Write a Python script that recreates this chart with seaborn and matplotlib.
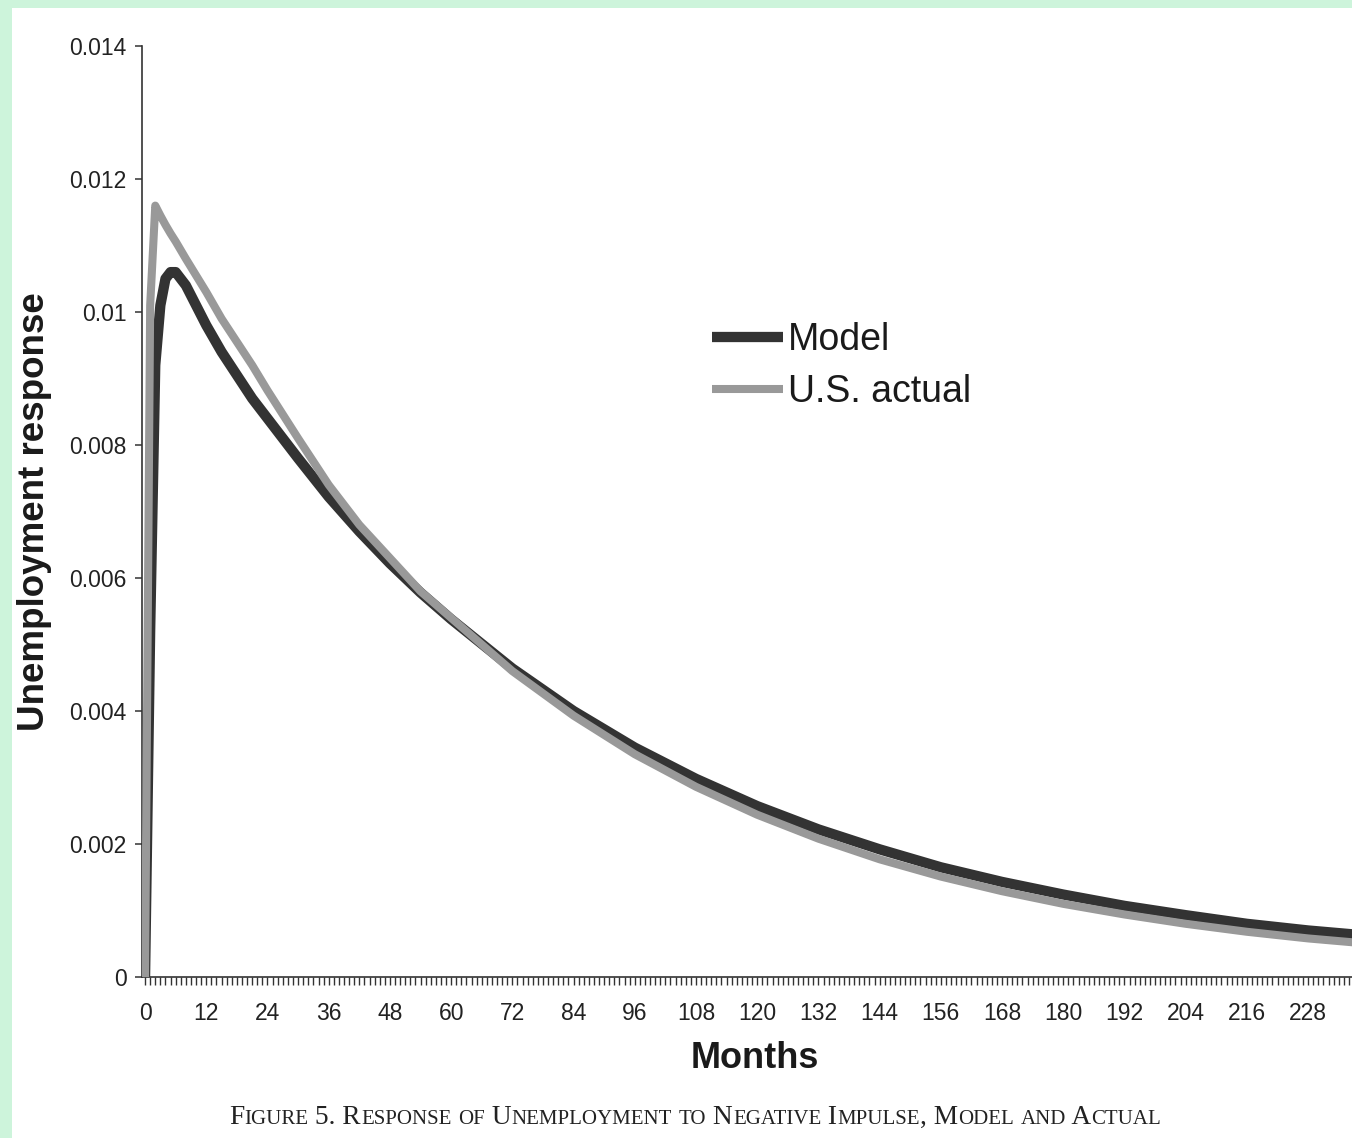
import matplotlib
matplotlib.use("Agg")
import matplotlib.pyplot as plt
import seaborn as sns
import pandas as pd
import numpy as np
from matplotlib.patches import Rectangle
from matplotlib.ticker import MultipleLocator, FixedLocator, FixedFormatter

# ---------------- data ----------------
months = [0, 1, 2, 3, 4, 5, 6, 7, 8, 10, 12, 15, 18, 21, 24, 30, 36, 42, 48, 54,
          60, 72, 84, 96, 108, 120, 132, 144, 156, 168, 180, 192, 204, 216, 228, 240]
model = [0, 0.0052, 0.0092, 0.0101, 0.0105, 0.0106, 0.0106, 0.0105, 0.0104, 0.0101,
         0.0098, 0.0094, 0.00905, 0.0087, 0.0084, 0.0078, 0.00722, 0.00670, 0.00622,
         0.00578, 0.00538, 0.00464, 0.00400, 0.00345, 0.00298, 0.00257, 0.00222,
         0.00192, 0.00165, 0.00143, 0.00124, 0.00107, 0.00093, 0.00080, 0.00070, 0.00062]
us_actual = [0, 0.0101, 0.0116, 0.01145, 0.01131, 0.01118, 0.01106, 0.01093, 0.0108,
             0.01055, 0.0103, 0.0099, 0.00955, 0.0092, 0.00882, 0.0081, 0.0074, 0.0068,
             0.0063, 0.0058, 0.0054, 0.0046, 0.00393, 0.00335, 0.00286, 0.00244,
             0.00208, 0.00177, 0.00151, 0.00129, 0.00110, 0.00094, 0.00080, 0.00068,
             0.00058, 0.00050]
series_names = ["Model", "U.S. actual"]
ytick_vals = [0, 0.002, 0.004, 0.006, 0.008, 0.01, 0.012, 0.014]
ytick_labels = ["0", "0.002", "0.004", "0.006", "0.008", "0.01", "0.012", "0.014"]
xtick_vals = list(range(0, 229, 12))
xtick_labels = [str(v) for v in xtick_vals]
caption = "Figure 5. Response of Unemployment to Negative Impulse, Model and Actual"

df = pd.DataFrame({"month": months * 2,
                   "value": model + us_actual,
                   "series": [series_names[0]] * len(months) + [series_names[1]] * len(months)})

# ---------------- figure ----------------
sns.set_theme(style="white")
plt.rcParams["font.family"] = ["Liberation Sans", "DejaVu Sans"]

W, H = 1352, 1138
fig = plt.figure(figsize=(W / 100, H / 100), dpi=100)
fig.patch.set_facecolor("#cdf4db")
fig.patches.append(Rectangle((12 / W, 0), 1 - 12 / W, 1 - 8 / H, transform=fig.transFigure,
                             facecolor="white", edgecolor="none", zorder=-10))

ax_left, ax_bottom, ax_top = 142, 977, 46
ax = fig.add_axes([ax_left / W, 1 - ax_bottom / H, 1 - ax_left / W, (ax_bottom - ax_top) / H])
ax.set_facecolor("none")

styles = {"Model": dict(color="#333333", lw=7.4, zorder=3),
          "U.S. actual": dict(color="#999999", lw=5.8, zorder=4)}
for name in series_names:
    sub = df[df["series"] == name]
    sns.lineplot(data=sub, x="month", y="value", ax=ax, label=name,
                 color=styles[name]["color"], linewidth=styles[name]["lw"],
                 zorder=styles[name]["zorder"], solid_joinstyle="round", solid_capstyle="butt")

ax.set_xlim(-0.6, 236.6)
ax.set_ylim(0, 0.014)
ax.set_xlabel("")
ax.set_ylabel("")

for s in ["top", "right"]:
    ax.spines[s].set_visible(False)
for s in ["left", "bottom"]:
    ax.spines[s].set_color("#333333")
    ax.spines[s].set_linewidth(1.2)

ax.yaxis.set_major_locator(FixedLocator(ytick_vals))
ax.yaxis.set_major_formatter(FixedFormatter(ytick_labels))
ax.xaxis.set_major_locator(FixedLocator(xtick_vals))
ax.xaxis.set_major_formatter(FixedFormatter(xtick_labels))
ax.xaxis.set_minor_locator(MultipleLocator(1))
ax.tick_params(axis="y", which="major", direction="out", length=5, width=1.1,
               color="#333333", labelsize=16.5, labelcolor="#222222", pad=6, left=True)
ax.tick_params(axis="x", which="both", direction="out", length=6, width=1.0,
               color="#333333", bottom=True)
ax.tick_params(axis="x", which="major", labelsize=16.5, labelcolor="#222222", pad=12)

# legend
leg = ax.legend(loc="upper left", bbox_to_anchor=(712 / W, 1 - 322 / H),
                bbox_transform=fig.transFigure, frameon=False, fontsize=27,
                handlelength=1.9, handletextpad=0.12, labelspacing=0.42,
                borderpad=0, borderaxespad=0)
for t in leg.get_texts():
    t.set_color("#1a1a1a")

# axis titles
fig.text(35 / W, 1 - 512 / H, "Unemployment response", rotation=90, ha="center", va="center",
         fontsize=26.5, fontweight="bold", color="#1a1a1a")
fig.text(755 / W, 1 - 1058 / H, "Months", ha="center", va="center",
         fontsize=26, fontweight="bold", color="#1a1a1a")

# caption in small caps
renderer = fig.canvas.get_renderer()
big, small = 19.7, 15.0
runs = []
for ch in caption:
    if ch.isupper() or ch.isdigit() or ch in " .,":
        size, txt = big, ch
    else:
        size, txt = small, ch.upper()
    if runs and runs[-1][1] == size:
        runs[-1][0] += txt
    else:
        runs.append([txt, size])
objs = []
for txt, size in runs:
    t = fig.text(0, 0, txt, fontsize=size, family=["Liberation Serif", "DejaVu Serif"],
                 color="#222222", ha="left", va="baseline")
    objs.append(t)
widths = [t.get_window_extent(renderer).width for t in objs]
total = sum(widths)
x0 = 695 - total / 2
base_y = 1 - 1124 / H
x = x0
for t, w in zip(objs, widths):
    t.set_position((x / W, base_y))
    x += w

fig.savefig("out.png", dpi=100, facecolor=fig.get_facecolor())
